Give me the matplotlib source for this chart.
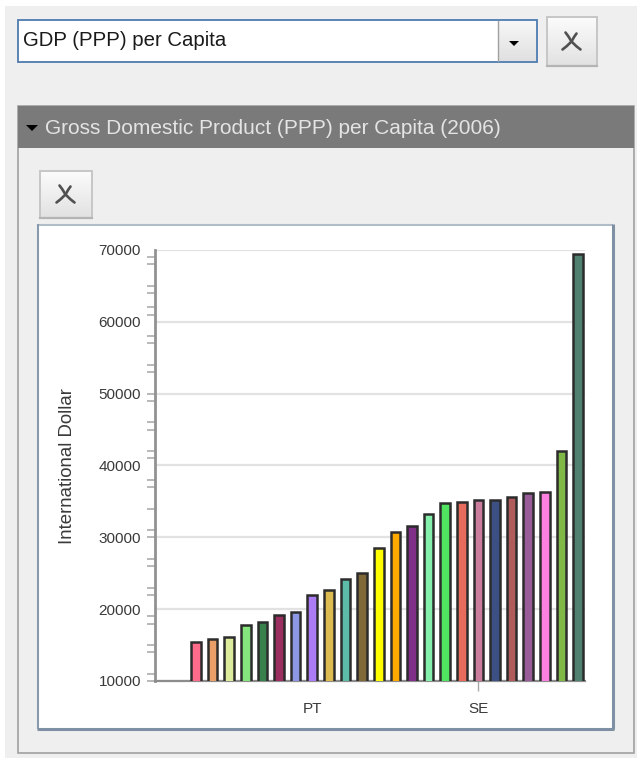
import matplotlib
matplotlib.use("Agg")
import matplotlib.pyplot as plt
import numpy as np
from matplotlib.patches import Rectangle, Polygon

selector_label = "GDP (PPP) per Capita"
panel_title = "Gross Domestic Product (PPP) per Capita (2006)"
y_label = "International Dollar"
labelled_categories = {7: "PT", 17: "SE"}
values = [15400, 15850, 16130, 17750, 18210, 19190, 19650, 21970, 22710, 24160,
          25030, 28560, 30700, 31620, 33300, 34740, 34920, 35160, 35160, 35620,
          36130, 36370, 42020, 69400]
colors = ["#ff6b8a", "#eb9f68", "#dcec9c", "#84e67c", "#38804c", "#9b3060",
          "#8c98e4", "#ac7cf4", "#dcbc50", "#5cbca8", "#806838", "#ffff00",
          "#ffaa00", "#803088", "#84f0ac", "#50e460", "#e86c5c", "#cc7c9c",
          "#3c5084", "#b05c5c", "#985c98", "#fc80e0", "#80b848", "#508070"]
y_major = [10000, 20000, 30000, 40000, 50000, 60000, 70000]
y_tick_marks = [10000, 11000, 14000, 15000, 18000, 19000, 22000, 23000, 26000, 27000,
                30000, 31000, 34000, 37000, 38000, 41000, 42000, 45000, 46000, 49000,
                50000, 53000, 54000, 57000, 58000, 61000, 62000, 64000, 65000, 68000, 69000]

W, H = 637, 758
fig = plt.figure(figsize=(W / 100, H / 100), dpi=100, facecolor="white")
FONT = "Liberation Sans"

ui = fig.add_axes([0, 0, 1, 1], zorder=0)
ui.set_xlim(0, W)
ui.set_ylim(H, 0)
ui.axis("off")


def box(x0, y0, x1, y1, fc, ec="none", lw=0, z=1):
    ui.add_patch(Rectangle((x0, y0), x1 - x0, y1 - y0, fc=fc, ec=ec, lw=lw, zorder=z))


def vgrad(x0, y0, x1, y1, top, low, z=3):
    g = np.linspace(top, low, 32).reshape(-1, 1)
    ui.imshow(g, extent=(x0, x1, y1, y0), cmap="gray", vmin=0, vmax=255,
              aspect="auto", zorder=z, interpolation="bilinear")


def scissors(cx, cy):
    for dx, dy in [(-6, -9), (5, -8), (-9, 8), (9, 8)]:
        ui.plot([cx, cx + dx * 0.55, cx + dx], [cy, cy + dy * 0.6, cy + dy],
                color="#505050", lw=1.9, zorder=5, solid_capstyle="round")


def button(x0, y0, x1, y1):
    box(x0, y0, x1, y1, "#f4f4f4", "#c6c6c6", 1.4, 2)
    vgrad(x0 + 1, y0 + 1, x1 - 1, y1 - 1, 250, 226)
    ui.plot([x0, x1], [y1, y1], color="#b4b4b4", lw=1.6, zorder=4)
    scissors((x0 + x1) / 2 - 0.5, (y0 + y1) / 2)


# Page background and panels
box(5, 6, W, H, "#efefef")
box(18, 20, 537, 62, "white", "#4d7bb0", 1.3, 2)
vgrad(498, 21, 536, 61, 246, 224)
ui.plot([498, 498], [21, 61], color="#a0a0a0", lw=1, zorder=4)
ui.add_patch(Polygon([[509, 41], [519, 41], [514, 46]], fc="black", zorder=5))
ui.text(23, 40, selector_label, family=FONT, fontsize=14.7, color="#1a1a1a", va="center", zorder=5)
button(547, 17, 597, 66)

box(18, 106, 634, 753, "#efefef", "#a0a0a0", 1.2, 1)
box(18, 106, 634, 148, "#7a7a7a", z=2)
ui.add_patch(Polygon([[26, 125], [38, 125], [32, 131]], fc="black", zorder=5))
ui.text(45, 128, panel_title, family=FONT, fontsize=15.0, color="#e4e4e4", va="center", zorder=5)
button(40, 171, 92, 218)
box(37, 224, 613, 729, "white", z=2)
ui.plot([37, 613], [224.5, 224.5], color="#b0bcc8", lw=1.5, zorder=3, solid_capstyle="butt")
ui.plot([37.5, 37.5], [224, 729], color="#8a9aae", lw=1.5, zorder=3, solid_capstyle="butt")
ui.plot([613, 613], [224, 729], color="#8090a4", lw=2.2, zorder=3, solid_capstyle="butt")
ui.plot([37, 614], [729, 729], color="#8090a4", lw=2.2, zorder=3, solid_capstyle="butt")
ui.set_xlim(0, W)
ui.set_ylim(H, 0)

# Chart
left, right, top, bottom = 155, 585, 250, 681
ax = fig.add_axes([left / W, 1 - bottom / H, (right - left) / W, (bottom - top) / H], zorder=2)
ax.patch.set_alpha(0)
xs = list(range(len(values)))
ax.bar(xs, values, width=0.58, color=colors, edgecolor="#2c2c2c", linewidth=1.8, zorder=3)
ax.set_xlim(-2.47, 23.42)
ax.set_ylim(y_major[0], y_major[-1])
ax.yaxis.remove_overlapping_locs = False
ax.set_yticks(y_major)
ax.set_yticklabels([str(v) for v in y_major], family=FONT, fontsize=11, color="#3a3a3a")
ax.set_yticks(y_tick_marks, minor=True)
ax.tick_params(axis="y", which="major", length=6, width=0, pad=4)
ax.tick_params(axis="y", which="minor", length=6, width=1.2, color="#adadad")
ax.set_xticks(list(labelled_categories))
ax.set_xticklabels(list(labelled_categories.values()), family=FONT, fontsize=11, color="#3a3a3a")
ax.tick_params(axis="x", length=7, width=1, color="#a8a8a8", pad=8)
ax.xaxis.get_major_ticks()[0].tick1line.set_visible(False)
ax.yaxis.grid(True, color="#e2e2e2", lw=1.6, zorder=1)
ax.set_axisbelow(True)
for s in ("top", "right"):
    ax.spines[s].set_visible(False)
ax.spines["left"].set_color("#929292")
ax.spines["left"].set_linewidth(2.0)
ax.spines["bottom"].set_color("#8c8c8c")
ax.spines["bottom"].set_linewidth(1.6)
fig.text(68 / W, 1 - 466 / H, y_label, family=FONT, fontsize=13.4, color="#3a3a3a",
         rotation=90, ha="center", va="center", zorder=5)

fig.savefig("out.png", dpi=100)
